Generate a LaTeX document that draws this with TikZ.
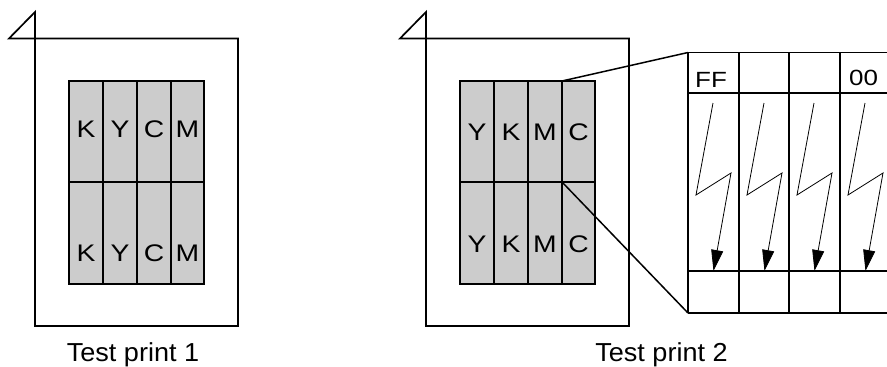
\documentclass[tikz,border=0pt]{standalone}
\usepackage{fontspec}
\setmainfont{Liberation Sans}
\newfontfamily\widefont[FakeStretch=1.18]{Liberation Sans}
\newfontfamily\capfont[FakeStretch=1.04]{Liberation Sans}
\usetikzlibrary{arrows.meta}
\definecolor{cellgray}{HTML}{CCCCCC}
\tikzset{
  framepath/.style={draw, line width=1.7pt, line join=miter},
  gridline/.style={line width=1.5pt},
  zoomline/.style={line width=1.5pt},
  bolt/.style={line width=0.8pt, -{Triangle[length=21pt,width=12pt]}},
  celllbl/.style={font=\widefont\fontsize{24}{24}\selectfont, inner sep=0pt, anchor=base},
  caption/.style={font=\capfont\fontsize{26}{26}\selectfont, inner sep=0pt, anchor=base},
  hexlbl/.style={font=\widefont\fontsize{22}{22}\selectfont, inner sep=0pt}
}
\begin{document}
\begin{tikzpicture}[x=1pt,y=-1pt]
\useasboundingbox (0,0) rectangle (887,367);

% ---------- Test print 1 ----------
\draw[framepath] (9,38.5) -- (35,12) -- (35,326) -- (238,326) -- (238,38.5) -- cycle;
\fill[cellgray] (69,81) rectangle (204,284);
\draw[gridline] (69,81) rectangle (204,284);
\foreach \x in {103,137,171} \draw[gridline] (\x,81) -- (\x,284);
\draw[gridline] (69,182) -- (204,182);
\foreach \c/\x in {K/86,Y/120,C/154,M/187.5} {
  \node[celllbl] (p1t\c) at (\x,137.5) {\c};
  \node[celllbl] (p1b\c) at (\x,261) {\c};
}
\node[caption] (cap1) at (133,361.5) {Test print 1};

% ---------- Test print 2 ----------
\draw[framepath] (400,38.5) -- (426,12) -- (426,326) -- (629,326) -- (629,38.5) -- cycle;
\fill[cellgray] (460,81) rectangle (595,284);
\draw[gridline] (460,81) rectangle (595,284);
\foreach \x in {494,528,562} \draw[gridline] (\x,81) -- (\x,284);
\draw[gridline] (460,182) -- (595,182);
\foreach \c/\x in {Y/477,K/511,M/545,C/578.5} {
  \node[celllbl] (p2t\c) at (\x,140) {\c};
  \node[celllbl] (p2b\c) at (\x,252.5) {\c};
}
\node[caption] (cap2) at (661.5,361.5) {Test print 2};

% ---------- zoom lines ----------
\coordinate (zsrcA) at (562,81);
\coordinate (zsrcB) at (562,182);
\coordinate (zdstA) at (688,52.5);
\coordinate (zdstB) at (688,313);
\draw[zoomline] (zsrcA) -- (zdstA);
\draw[zoomline] (zsrcB) -- (zdstB);

% ---------- detail panel ----------
\foreach \y in {52.5,93,271,313} \draw[gridline] (688,\y) -- (887,\y);
\foreach \x in {688,739,789,840} \draw[gridline] (\x,52.5) -- (\x,313);
\node[hexlbl, anchor=west] (ff) at (695,79.5) {FF};
\node[hexlbl] (zz) at (863.5,77.5) {00};
\foreach \x [count=\i] in {688,739,789,840} {
  \coordinate (bs\i) at (\x+25,103);
  \coordinate (bm\i) at (\x+8,195);
  \coordinate (bn\i) at (\x+43,173);
  \coordinate (be\i) at (\x+25.5,271);
  \draw[bolt] (bs\i) -- (bm\i) -- (bn\i) -- (be\i);
}
\end{tikzpicture}
\end{document}
